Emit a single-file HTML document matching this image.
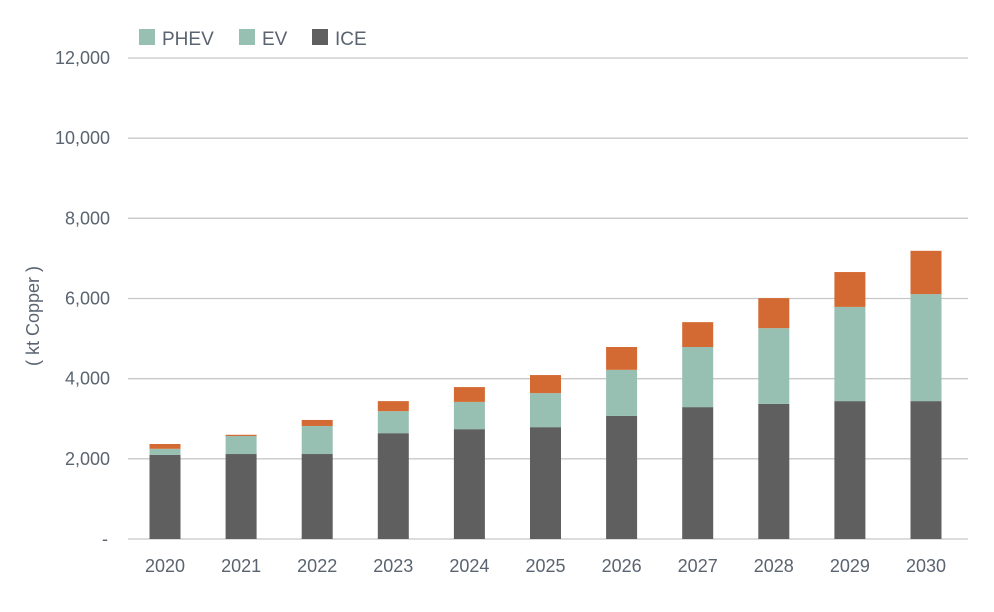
<!DOCTYPE html>
<html><head><meta charset="utf-8">
<style>
body{margin:0;background:#fff;font-family:"Liberation Sans",sans-serif;}
svg text{font-family:"Liberation Sans",sans-serif;fill:#5a6470;}
</style></head>
<body>
<svg id="chart" width="994" height="607" viewBox="0 0 994 607" xmlns="http://www.w3.org/2000/svg">
<g id="grid"></g>
<g id="bars"></g>
<g id="axes"></g>
<text transform="translate(39,316) rotate(-90)" text-anchor="middle" font-size="18">( kt Copper )</text>
<g>
 <g><rect x="139" y="29" width="16" height="16" fill="#97bfb2"/><text x="162" y="45" font-size="19">PHEV</text></g>
 <g><rect x="239" y="29" width="16" height="16" fill="#97bfb2"/><text x="262" y="45" font-size="19">EV</text></g>
 <g><rect x="312" y="29" width="16" height="16" fill="#5f5f5f"/><text x="335" y="45" font-size="19">ICE</text></g>
</g>
</svg>
<script>
const categories=["2020","2021","2022","2023","2024","2025","2026","2027","2028","2029","2030"];
const iceValues=[2100,2120,2120,2640,2740,2790,3070,3290,3370,3440,3440];
const evValues=[150,450,700,550,680,850,1150,1500,1890,2350,2670];
const phevValues=[120,30,150,250,370,450,570,620,750,870,1080];
const yTicks=[0,2000,4000,6000,8000,10000,12000];
const yTickLabels=["-","2,000","4,000","6,000","8,000","10,000","12,000"];
const NS="http://www.w3.org/2000/svg";
const y=v=>539-v*(481/12000);
const x=i=>165+i*76.1;
const bw=31;
function mk(tag,attrs,parent){const e=document.createElementNS(NS,tag);for(const k in attrs)e.setAttribute(k,attrs[k]);parent.appendChild(e);return e;}
const grid=document.getElementById('grid'),bars=document.getElementById('bars'),axes=document.getElementById('axes');
yTicks.forEach((t,i)=>{
 const l=mk('line',{x1:128,x2:968,y1:y(t),y2:y(t),stroke:'#c8c8c8','stroke-width':1.3},grid);
 
 
 const tx=mk('text',{x:i===0?108:110,y:y(t)+6,'text-anchor':'end','font-size':18},axes);
 tx.textContent=yTickLabels[i];
 
 
});
categories.forEach((c,i)=>{
 const segs=[[iceValues[i],'#5f5f5f','ice'],[evValues[i],'#97bfb2','ev'],[phevValues[i],'#d46a33','phev']];
 let base=0;
 segs.forEach(s=>{
  const r=mk('rect',{x:x(i)-bw/2,y:y(base+s[0]),width:bw,height:y(base)-y(base+s[0]),fill:s[1]},bars);
  
  
  base+=s[0];
 });
 const t=mk('text',{x:x(i),y:572,'text-anchor':'middle','font-size':18},axes);
 t.textContent=c;
 
 
});
</script>
</body></html>
